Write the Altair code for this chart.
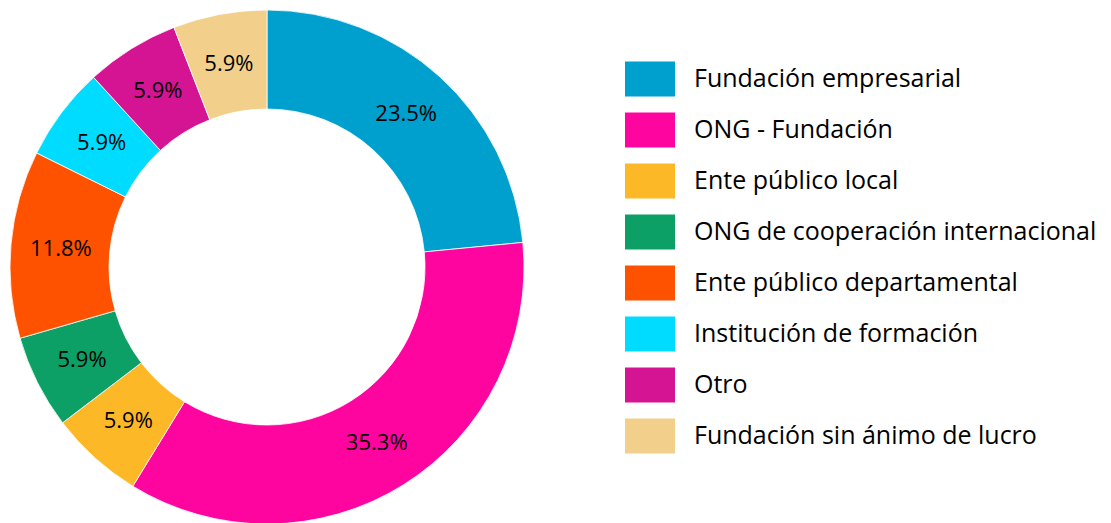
import altair as alt
import pandas as pd

categories = [
    "Fundación empresarial",
    "ONG - Fundación",
    "Ente público local",
    "ONG de cooperación internacional",
    "Ente público departamental",
    "Institución de formación",
    "Otro",
    "Fundación sin ánimo de lucro",
]
shares = [23.5, 35.3, 5.9, 5.9, 11.8, 5.9, 5.9, 5.9]
labels = ["23.5%", "35.3%", "5.9%", "5.9%", "11.8%", "5.9%", "5.9%", "5.9%"]
colors = ["#00A0CE", "#FF05A0", "#FDB827", "#0C9F66", "#FF5200", "#00DCFF", "#D41493", "#F2CF8B"]

df = pd.DataFrame({
    "cat": categories,
    "share": shares,
    "label": labels,
    "idx": list(range(len(categories))),
})

FONT = "Open Sans"

base = alt.Chart(df).encode(
    theta=alt.Theta("share:Q", stack=True),
    order=alt.Order("idx:Q", sort="ascending"),
)

arcs = base.mark_arc(outerRadius=257, innerRadius=158, stroke="white", strokeWidth=0.8).encode(
    color=alt.Color(
        "cat:N",
        scale=alt.Scale(domain=categories, range=colors),
        legend=alt.Legend(
            title=None,
            orient="none",
            legendX=612,
            legendY=42,
            symbolType="M-1,-0.7H1V0.7H-1Z",
            symbolSize=2500,
            symbolStrokeWidth=0,
            symbolOpacity=1,
            labelFont=FONT,
            labelFontSize=25,
            labelColor="#000000",
            labelOffset=19,
            rowPadding=8,
            labelLimit=600,
        ),
    )
)

text = base.mark_text(radius=207, font=FONT, fontSize=22, color="#000000").encode(
    text="label:N"
)

chart = (
    alt.layer(arcs, text)
    .properties(width=508, height=510, padding=0)
    .configure_view(stroke=None)
)

chart.save("out.html", embed_options={"renderer": "svg", "actions": False})
